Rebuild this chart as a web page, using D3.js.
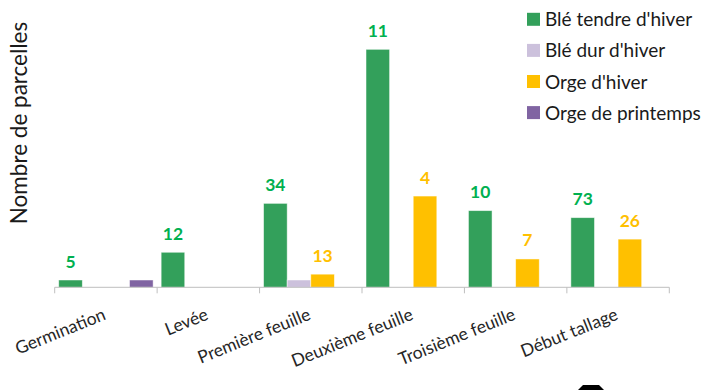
<!DOCTYPE html>
<html><head><meta charset="utf-8">
<script src="https://cdn.jsdelivr.net/npm/d3@7"></script>
<style>
html,body{margin:0;padding:0;background:#fff;}
svg{display:block;font-family:"Lato","Open Sans",sans-serif;}
</style></head>
<body><svg id="c" width="707" height="390"></svg>
<script>
const categories = ["Germination", "Levée", "Première feuille", "Deuxième feuille", "Troisième feuille", "Début tallage"];
const seriesNames = ["Blé tendre d'hiver", "Blé dur d'hiver", "Orge d'hiver", "Orge de printemps"];
const bleTendre   = [5, 24, 57.5, 163, 52.5, 47.7];
const bleDur      = [0, 0, 5, 0, 0, 0];
const orgeHiver   = [0, 0, 9, 62.5, 19.4, 33];
const orgePrint   = [5, 0, 0, 0, 0, 0];
const labelsBleTendre = ["5", "12", "34", "11", "10", "73"];
const labelsOrgeHiver = [null, null, "13", "4", "7", "26"];
const yTitle = "Nombre de parcelles";

const colors = ["#33a05b", "#ccc1dc", "#ffc000", "#8064a2"];
const labelColors = ["#00b050", null, "#ffc000", null];
const seriesValues = [bleTendre, bleDur, orgeHiver, orgePrint];
const seriesLabels = [labelsBleTendre, null, labelsOrgeHiver, null];

const svg = d3.select("#c");
const x0 = d3.scaleBand().domain(categories).range([54.7, 669.3]).paddingInner(0).paddingOuter(0);
const x1 = d3.scaleBand().domain(seriesNames).range([0, x0.bandwidth()]).paddingInner(0).paddingOuter(0.17);
const baseY = 287.3;
const y = d3.scaleLinear().domain([0, 170]).range([baseY, baseY - 170 * 1.46]);

// bars
seriesNames.forEach((s, si) => {
  const g = svg.append("g");
  categories.forEach((c, ci) => {
    const v = seriesValues[si][ci];
    if (!v) return;
    g.append("rect")
      .attr("x", x0(c) + x1(s))
      .attr("y", y(v))
      .attr("width", x1.bandwidth())
      .attr("height", y(0) - y(v))
      .attr("fill", colors[si])
      .attr("stroke", "#ffffff")
      .attr("stroke-opacity", 0.6)
      .attr("stroke-width", 0.8);
    const labs = seriesLabels[si];
    if (labs && labs[ci] != null) {
      svg.append("text")
        .attr("x", x0(c) + x1(s) + x1.bandwidth() / 2)
        .attr("y", y(v) - 12.5)
        .attr("text-anchor", "middle")
        .attr("font-size", 17.5)
        .attr("font-weight", "bold")
        .attr("fill", labelColors[si])
        .text(labs[ci]);
    }
  });
});

// axis line and boundary ticks
const axisG = svg.append("g");
axisG.append("line").attr("x1", x0.range()[0]).attr("x2", x0.range()[1])
  .attr("y1", baseY).attr("y2", baseY).attr("stroke", "#bfbfbf").attr("stroke-width", 1);
const bounds = categories.map(c => x0(c)).concat([x0.range()[1]]);
bounds.forEach(b => {
  axisG.append("line").attr("x1", b).attr("x2", b).attr("y1", baseY).attr("y2", baseY + 6)
    .attr("stroke", "#bfbfbf").attr("stroke-width", 1);
});
categories.forEach(c => {
  const cx = x0(c) + x0.bandwidth() / 2;
  axisG.append("text")
    .attr("transform", `translate(${cx + 1},319) rotate(-22)`)
    .attr("text-anchor", "end")
    .attr("font-size", 17.5)
    .attr("fill", "#262626")
    .text(c);
});

// y title
svg.append("text")
  .attr("transform", "translate(27,123) rotate(-90)")
  .attr("text-anchor", "middle")
  .attr("font-size", 22.5)
  .attr("fill", "#1a1a1a")
  .text(yTitle);

// legend
const leg = svg.append("g");
seriesNames.forEach((s, i) => {
  const cy = 19.3 + i * 31.1;
  leg.append("rect").attr("x", 527).attr("y", cy - 6.5).attr("width", 13).attr("height", 13).attr("fill", colors[i]);
  leg.append("text").attr("x", 545).attr("y", cy + 7).attr("font-size", 19).attr("fill", "#1a1a1a").text(s);
});

// small dark shape at bottom edge
svg.append("path").attr("d", "M578,390 L583,385 L599,385 L604,390 Z").attr("fill", "#000");
</script></body></html>
